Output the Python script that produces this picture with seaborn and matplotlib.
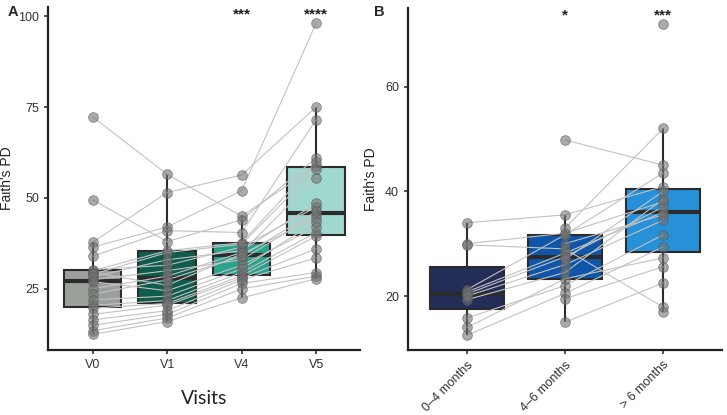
import numpy as np
import pandas as pd
import matplotlib
matplotlib.use("Agg")
import matplotlib.pyplot as plt
import matplotlib.transforms as mtransforms
import seaborn as sns

# ---------------- data ----------------
visits = ["V0", "V1", "V4", "V5"]
subjects_a = list(range(1, 23))
v0 = [72.3, 49.5, 37.8, 36.5, 34.0, 30.3, 30.0, 29.5, 29.0, 28.3, 27.5,
      27.0, 25.0, 23.5, 22.0, 20.5, 19.7, 18.0, 16.5, 15.0, 13.5, 12.5]
v1 = [56.5, 38.0, 51.5, 42.0, 41.0, 31.5, 35.5, 26.0, 35.0, 33.0, 30.0,
      24.5, 28.5, 27.5, 23.0, 21.8, 21.0, 20.5, 19.0, 18.0, 17.0, 16.0]
v4 = [45.0, 44.0, 56.3, 52.0, 40.5, 36.5, 37.7, 34.6, 37.3, 35.5, 33.0,
      31.5, 35.0, 34.0, 30.5, 29.5, 28.6, 28.0, 27.5, 26.5, 25.0, 22.5]
v5 = [58.7, 61.0, 75.0, 98.0, 71.5, 47.5, 59.8, 44.5, 58.0, 48.5, 45.5,
      42.0, 55.5, 46.3, 43.5, 40.5, 39.5, 36.0, 33.5, 29.5, 28.5, 27.8]
stars_a = ["", "", "***", "****"]

ages = ["0\u20134 months", "4\u20136 months", "> 6 months"]
subjects_b = list(range(1, 20))
m0_4 = [34.0, 30.0, 29.8, 21.2, 20.8, 20.4, 20.0, 19.3, 15.8, 14.0, 12.5,
        np.nan, np.nan, np.nan, np.nan, np.nan, np.nan, np.nan, np.nan]
m4_6 = [35.5, 32.0, 29.0, 31.7, 28.2, 27.5, 26.0, 24.5, 22.0, 23.3, 20.5,
        49.8, 33.0, 27.0, 19.5, 15.0, 30.0, np.nan, np.nan]
m6p = [40.9, 38.0, 17.9, 43.5, 36.0, 37.0, 34.5, 38.5, 31.7, 27.3, 29.4,
       45.0, 52.0, 40.0, 25.6, 22.5, 35.5, 72.0, 16.9]
stars_b = ["", "*", "***"]

pal_a = ["#9ca09a", "#0e5c4c", "#2aa28e", "#9fd8cf"]
pal_b = ["#242c58", "#0f56a8", "#2690d8"]

# ---------------- tables ----------------
def long_table(cats, cols, subjects):
    rows = []
    for i, (c, vals) in enumerate(zip(cats, cols)):
        for s, v in zip(subjects, vals):
            rows.append({"group": c, "pos": i, "subject": s, "value": v})
    return pd.DataFrame(rows).dropna()

dfa = long_table(visits, [v0, v1, v4, v5], subjects_a)
dfb = long_table(ages, [m0_4, m4_6, m6p], subjects_b)

# ---------------- style ----------------
sns.set_theme(style="ticks")
plt.rcParams["font.family"] = ["Liberation Sans", "DejaVu Sans"]
plt.rcParams["axes.linewidth"] = 1.6
plt.rcParams["xtick.major.width"] = 1.2
plt.rcParams["ytick.major.width"] = 1.2
plt.rcParams["xtick.major.size"] = 3
plt.rcParams["ytick.major.size"] = 3

fig = plt.figure(figsize=(7.27, 4.15), dpi=100)
W, H = 727, 415
axA = fig.add_axes([48 / W, 1 - 350 / H, (360 - 48) / W, (350 - 7) / H])
axB = fig.add_axes([408 / W, 1 - 350 / H, (722 - 408) / W, (350 - 8) / H])

box_kw = dict(linecolor="#2b2b2b", linewidth=1.5, showfliers=False,
              showcaps=False, saturation=1,
              medianprops={"linewidth": 3, "color": "#2b2b2b"},
              legend=False)

def panel(ax, df, cats, pal, width, stars, ylim, xlim, yticks, ylab_x):
    sns.boxplot(data=df, x="group", y="value", hue="group", order=cats,
                hue_order=cats, palette=pal, width=width, ax=ax, **box_kw)
    sns.lineplot(data=df, x="pos", y="value", units="subject", estimator=None,
                 color="#c2c2c2", linewidth=0.8, ax=ax, zorder=3, legend=False)
    sns.stripplot(data=df, x="group", y="value", order=cats, jitter=False,
                  color="#737373", alpha=0.6, size=7, edgecolor="#555555",
                  linewidth=0.6, ax=ax, zorder=4)
    ax.set_ylim(*ylim)
    ax.set_xlim(*xlim)
    ax.set_yticks(yticks)
    ax.set_xticks(range(len(cats)))
    sns.despine(ax=ax)
    ax.spines["left"].set_color("#222222")
    ax.spines["bottom"].set_color("#222222")
    ax.tick_params(colors="#333333", labelsize=9)
    ax.set_ylabel("Faith's PD", fontsize=10, color="#222222")
    ax.yaxis.set_label_coords(ylab_x, 0.5)
    trans = mtransforms.blended_transform_factory(ax.transData, ax.transAxes)
    for i, s in enumerate(stars):
        if s:
            ax.text(i, 0.978, s, transform=trans, ha="center", va="center",
                    fontsize=11, fontweight="bold", color="#222222")

panel(axA, dfa, visits, pal_a, 0.77, stars_a, (8.2, 102.5), (-0.6, 3.59),
      [25, 50, 75, 100], (14 - 48) / 312)
axA.set_xticklabels(visits)
axA.set_xlabel("Visits", fontsize=14, family=["Lato", "DejaVu Sans"],
               color="#222222", labelpad=14)

panel(axB, dfb, ages, pal_b, 0.76, stars_b, (9.7, 75.0), (-0.6, 2.6),
      [20, 40, 60], (378 - 408) / 314)
axB.set_xticklabels(ages, rotation=45, ha="right", rotation_mode="anchor")
axB.set_xlabel("")

fig.text(8 / W, 1 - 12 / H, "A", fontsize=10.5, fontweight="bold",
         ha="left", va="center")
fig.text(374 / W, 1 - 12 / H, "B", fontsize=10.5, fontweight="bold",
         ha="left", va="center")

fig.savefig("out.png", dpi=100)
